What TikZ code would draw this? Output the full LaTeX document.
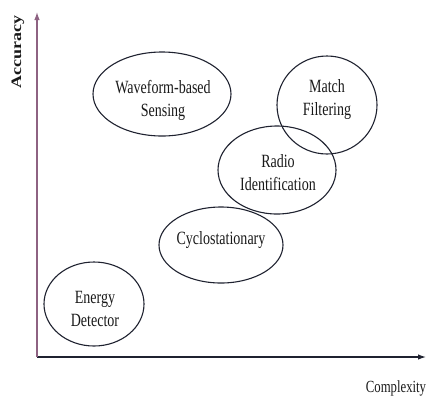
\documentclass[tikz,border=0pt]{standalone}
\usepackage{fontspec}
\setmainfont[FakeStretch=0.75]{Liberation Serif}
\newfontfamily\axisfont{Liberation Serif}
\usetikzlibrary{shapes.geometric,arrows.meta}
\definecolor{ink}{HTML}{1F2230}
\definecolor{yaxis}{HTML}{8E6282}
\begin{document}
\begin{tikzpicture}[x=1pt,y=-1pt,
  oval/.style={draw=ink, ellipse, line width=1.1pt, inner sep=0pt},
  lbl/.style={align=center, inner sep=0pt, text=black!90,
     font=\fontsize{18.7}{23}\selectfont},
  axisline/.style={line width=1.2pt, -{Latex[length=8pt,width=5.5pt]}}]
\useasboundingbox (0,0) rectangle (427,400);
% axes
\coordinate (O) at (37,357);
\coordinate (ytop) at (37,12);
\coordinate (xend) at (426,357);
\draw[axisline, draw=ink] (O) -- (xend);
\draw[axisline, draw=yaxis] (O) -- (ytop);
\node[rotate=90, inner sep=0pt, text=black!90] (acc) at (18,52)
  {\scalebox{1}[0.8]{\axisfont\fontsize{18}{20}\selectfont\bfseries Accuracy}};
\node[inner sep=0pt, text=black!90, font=\fontsize{17}{20}\selectfont] (cx) at (396,388) {Complexity};
% ellipses
\node[oval, minimum width=138, minimum height=84] (wave) at (162,94) {};
\node[oval, minimum width=100, minimum height=98] (match) at (327,105) {};
\node[oval, minimum width=118, minimum height=88] (radio) at (277,170) {};
\node[oval, minimum width=124, minimum height=76] (cyclo) at (221,245) {};
\node[oval, minimum width=100, minimum height=84] (energy) at (94,304) {};
% texts
\node[lbl] (wavet) at (163,100) {Waveform-based\\Sensing};
\node[lbl] (matcht) at (327,100) {Match\\Filtering};
\node[lbl] (radiot) at (278,173) {Radio\\Identification};
\node[lbl] (cyclot) at (221,240) {Cyclostationary};
\node[lbl] (energyt) at (95,309) {Energy\\Detector};
\end{tikzpicture}
\end{document}
